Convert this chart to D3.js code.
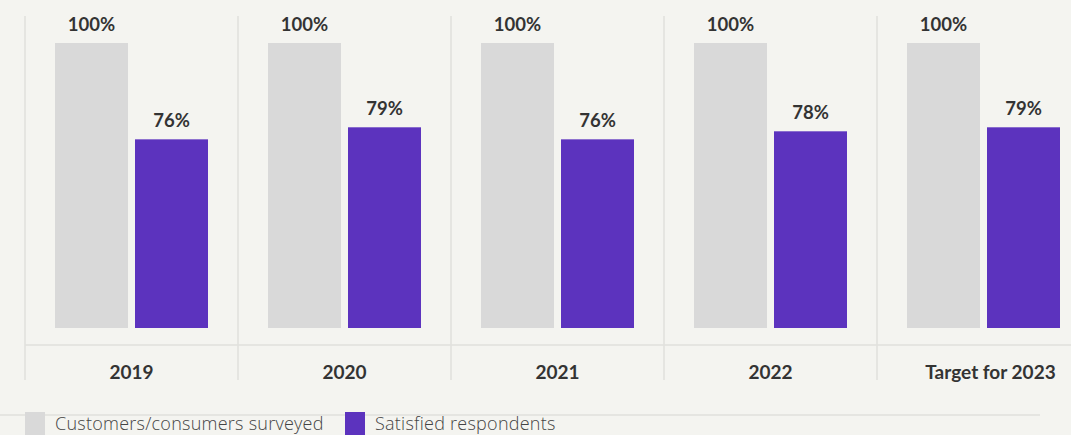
<!DOCTYPE html>
<html>
<head>
<meta charset="utf-8">
<script src="https://cdn.jsdelivr.net/npm/d3@7"></script>
<style>
  html, body { margin: 0; padding: 0; background: #f4f4f0; }
  svg { display: block; }
</style>
</head>
<body>
<svg id="chart" width="1071" height="435"></svg>
<script>
const categories = ["2019", "2020", "2021", "2022", "Target for 2023"];
const seriesNames = ["Customers/consumers surveyed", "Satisfied respondents"];
const surveyed = [100, 100, 100, 100, 100];
const satisfied = [76, 79, 76, 78, 79];
const seriesColors = ["#d9d9d9", "#5c33be"];

const svg = d3.select("#chart");
const W = 1071, H = 435;

const bandW = 213;
const x0 = d3.scaleBand().domain(categories).range([25, 25 + bandW * categories.length]).padding(0);
const x1 = d3.scaleBand().domain(seriesNames).range([30, 183]).paddingInner(7 / 80).paddingOuter(0);
const y = d3.scaleLinear().domain([29, 100]).range([328, 43]);

const gridColor = "#e0e0dc";
const textColor = "#333333";

// vertical separators
svg.append("g").selectAll("line")
  .data(categories)
  .join("line")
  .attr("x1", d => x0(d)).attr("x2", d => x0(d))
  .attr("y1", 16).attr("y2", 380)
  .attr("stroke", gridColor).attr("stroke-width", 1.5);

// horizontal axis line
svg.append("line")
  .attr("x1", 25).attr("x2", W)
  .attr("y1", 345).attr("y2", 345)
  .attr("stroke", gridColor).attr("stroke-width", 1.5);

const rows = categories.map((c, i) => ({ cat: c, vals: [surveyed[i], satisfied[i]] }));

const groups = svg.append("g").selectAll("g")
  .data(rows)
  .join("g")
  .attr("transform", d => `translate(${x0(d.cat)},0)`);

groups.selectAll("rect")
  .data(d => d.vals.map((v, j) => ({ s: seriesNames[j], v, j })))
  .join("rect")
  .attr("x", d => x1(d.s))
  .attr("width", x1.bandwidth())
  .attr("y", d => y(d.v))
  .attr("height", d => y.range()[0] - y(d.v))
  .attr("fill", d => seriesColors[d.j]);

groups.selectAll("text.val")
  .data(d => d.vals.map((v, j) => ({ s: seriesNames[j], v, j })))
  .join("text")
  .attr("class", "val")
  .attr("x", d => x1(d.s) + x1.bandwidth() / 2)
  .attr("y", d => y(d.v) - 12)
  .attr("text-anchor", "middle")
  .attr("font-family", "Lato, 'Open Sans', sans-serif")
  .attr("font-weight", 700)
  .attr("font-size", 18.5)
  .attr("fill", textColor)
  .text(d => d.v + "%");

// category labels
svg.append("g").selectAll("text")
  .data(categories)
  .join("text")
  .attr("x", d => x0(d) + (x1.range()[0] + x1.range()[1]) / 2 + (d.length > 6 ? 7 : 0))
  .attr("y", 379)
  .attr("text-anchor", "middle")
  .attr("font-family", "Lato, 'Open Sans', sans-serif")
  .attr("font-weight", 700)
  .attr("font-size", 19)
  .attr("fill", textColor)
  .text(d => d);

// legend
svg.append("line")
  .attr("x1", 0).attr("x2", 1040)
  .attr("y1", 415).attr("y2", 415)
  .attr("stroke", gridColor).attr("stroke-width", 1.5);

const legendX = [25, 345];
const lg = svg.append("g").selectAll("g")
  .data(seriesNames)
  .join("g")
  .attr("transform", (d, i) => `translate(${legendX[i]},412)`);
lg.append("rect")
  .attr("width", 20).attr("height", 23)
  .attr("fill", (d, i) => seriesColors[i]);
lg.append("text")
  .attr("x", 30).attr("y", 18)
  .attr("font-family", "'Open Sans', Lato, sans-serif")
  .attr("font-weight", 300)
  .attr("font-size", 18)
  .attr("letter-spacing", 0.25)
  .attr("fill", "#444")
  .text(d => d);
</script>
</body>
</html>
